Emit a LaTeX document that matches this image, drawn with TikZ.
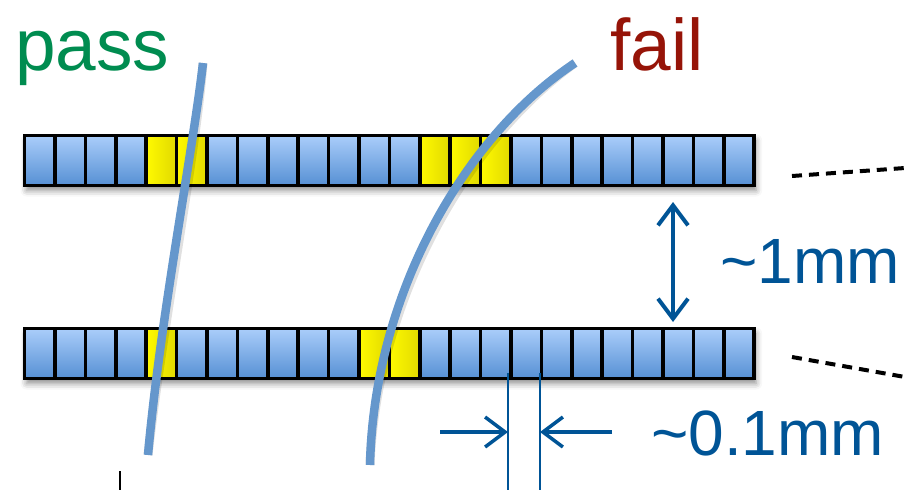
\documentclass[tikz,border=0pt]{standalone}
\usepackage{fontspec}
\setmainfont{Liberation Sans}
\usetikzlibrary{arrows.meta,shadows.blur,backgrounds,calc}

\definecolor{cellhi}{RGB}{170,205,250}
\definecolor{celllo}{RGB}{86,144,212}
\definecolor{markyel}{RGB}{255,250,0}
\definecolor{markyeldk}{RGB}{225,217,0}
\definecolor{trackblue}{RGB}{101,151,204}
\definecolor{dimblue}{RGB}{0,84,150}
\definecolor{passgreen}{RGB}{0,140,80}
\definecolor{failred}{RGB}{150,20,8}

\tikzset{
  cellbase/.style={draw=black, line width=3.6pt, minimum width=30.4pt,
    minimum height=50pt, inner sep=0pt, outer sep=0pt},
  bcell/.style={cellbase, top color=cellhi, bottom color=celllo},
  ycell/.style={cellbase, left color=markyel, middle color=markyel, right color=markyeldk},
  rowshadow/.style={fill=white, blur shadow={shadow xshift=2pt, shadow yshift=-5pt,
    shadow blur radius=6pt, shadow opacity=45}},
  track/.style={trackblue, line width=8.5pt},
  trackshade/.style={black, opacity=0.12, line width=9pt},
  leader/.style={black, line width=4pt, dash pattern=on 10pt off 7pt},
  dimline/.style={dimblue, line width=2pt},
  dimarrow/.style={dimblue, line width=3.5pt, -{Straight Barb[length=20pt,width=30pt]}},
  bigtext/.style={inner sep=0pt, anchor=base west, font=\fontsize{73}{80}\selectfont},
  dimtext/.style={inner sep=0pt, anchor=base west, text=dimblue, font=\fontsize{64}{70}\selectfont},
}

\begin{document}
\begin{tikzpicture}[x=1pt, y=-1pt]
  \useasboundingbox (0,0) rectangle (905,490);

  % upper strip: hit cells 4,5 and 13-15
  \foreach \k in {0,...,23}{
    \pgfmathtruncatemacro\hit{(\k==4)||(\k==5)||((\k>=13)&&(\k<=15))}
    \ifnum\hit=1 \def\cst{ycell}\else\def\cst{bcell}\fi
    \node[\cst] (t\k) at ({39.7+30.4*\k},160.5) {};
  }
  % lower strip: hit cells 4, 11 and 12
  \foreach \k in {0,...,23}{
    \pgfmathtruncatemacro\hit{(\k==4)||(\k==11)||(\k==12)}
    \ifnum\hit=1 \def\cst{ycell}\else\def\cst{bcell}\fi
    \node[\cst] (b\k) at ({39.7+30.4*\k},353.5) {};
  }
  \begin{pgfonlayer}{background}
    \path[rowshadow] (t0.north west) rectangle (t23.south east);
    \path[rowshadow] (b0.north west) rectangle (b23.south east);
  \end{pgfonlayer}

  % particle tracks
  \coordinate (p0) at (203,63);
  \coordinate (p1) at (148,455);
  \coordinate (f0) at (575,63);
  \coordinate (f1) at (370,465);
  \begin{scope}[shift={(3,4)}]
    \draw[trackshade] (p0) .. controls (193,150) and (160,320) .. (p1);
    \draw[trackshade] (f0) .. controls (466,135) and (374,292) .. (f1);
  \end{scope}
  \draw[track] (p0) .. controls (193,150) and (160,320) .. (p1);
  \draw[track] (f0) .. controls (466,135) and (374,292) .. (f1);

  \node[bigtext, text=passgreen] (pass) at (15,70) {pass};
  \node[bigtext, text=failred] (fail) at (610,70) {fail};

  % continuation leaders
  \coordinate (lt0) at (792,176);
  \coordinate (lt1) at (905,168);
  \coordinate (lb0) at (792,357);
  \coordinate (lb1) at (905,377);
  \draw[leader] (lt0) -- (lt1);
  \draw[leader] (lb0) -- (lb1);

  % strip spacing
  \coordinate (gapA) at (673,202);
  \coordinate (gapB) at (673,322);
  \draw[dimblue, line width=4pt, {Straight Barb[length=20pt,width=30pt]}-{Straight Barb[length=20pt,width=30pt]}] (gapA) -- (gapB);
  \node[dimtext] (mm1) at (720,283) {\textasciitilde 1mm};

  % cell pitch
  \coordinate (wl0) at (508,373);
  \coordinate (wl1) at (508,490);
  \coordinate (wr0) at (540,373);
  \coordinate (wr1) at (540,490);
  \draw[dimline] (wl0) -- (wl1);
  \draw[dimline] (wr0) -- (wr1);
  \coordinate (al) at (440,432);
  \coordinate (ar) at (612,432);
  \draw[dimarrow] (al) -- (508,432);
  \draw[dimarrow] (ar) -- (540,432);
  \node[dimtext] (mm01) at (651,455) {\textasciitilde 0.1mm};

  \coordinate (tk0) at (120,471);
  \coordinate (tk1) at (120,490);
  \draw[black, line width=1.5pt] (tk0) -- (tk1);
\end{tikzpicture}
\end{document}
